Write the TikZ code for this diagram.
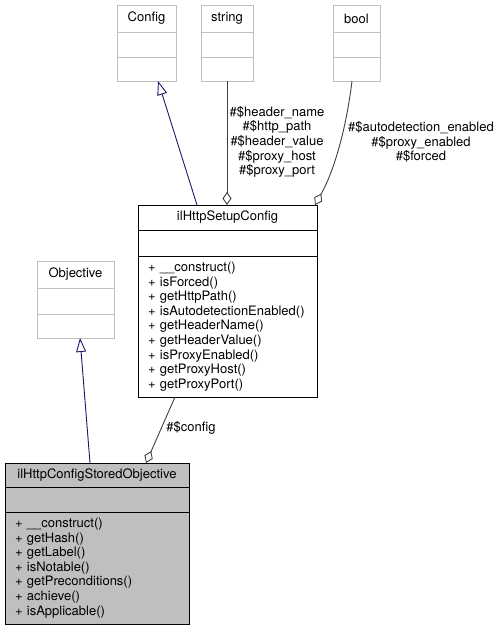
\documentclass[tikz,border=0pt]{standalone}
\usepackage{fontspec}
\newfontfamily\umlfont{TeX Gyre Heros}
\usetikzlibrary{positioning,arrows.meta}
\definecolor{umlgray}{HTML}{BFBFBF}
\definecolor{umledge}{HTML}{404040}
\definecolor{umlnavy}{HTML}{191970}
\tikzset{
  box/.style={draw, outer sep=0pt, inner sep=0pt, line width=0.9pt, text=black,
    font=\umlfont\fontsize{13}{14.6}\selectfont},
  extbox/.style={box, draw=umlgray, fill=white},
  ownbox/.style={box, draw=black, fill=white},
  mainbox/.style={box, draw=black, fill=umlgray},
  methods/.style={align=left, inner xsep=10pt},
  inherit/.style={draw=umlnavy, line width=0.9pt, -{Triangle[open, length=14pt, width=10pt]}},
  member/.style={draw=umledge, line width=0.9pt, -{Diamond[open, length=13pt, width=9pt]}},
  lbl/.style={align=center, inner sep=0pt, font=\umlfont\fontsize{13}{14.6}\selectfont}
}

\begin{document}
\begin{tikzpicture}[x=1pt, y=-1pt]
	\useasboundingbox (0,0) rectangle (503,632);
	
	%%%%% used classes %%%%%
	\node[extbox, anchor=north west, minimum width=59pt, minimum height=27pt] (config) at (117,5) {Config};
	\node[extbox, below=0pt of config, minimum width=59pt, minimum height=25pt] (config-a) {};
	\node[extbox, below=0pt of config-a, minimum width=59pt, minimum height=24pt] (config-m) {};
	
	\node[extbox, anchor=north west, minimum width=52pt, minimum height=27pt] (string) at (201,5) {string};
	\node[extbox, below=0pt of string, minimum width=52pt, minimum height=25pt] (string-a) {};
	\node[extbox, below=0pt of string-a, minimum width=52pt, minimum height=24pt] (string-m) {};
	
	\node[extbox, anchor=north west, minimum width=47pt, minimum height=27pt] (bool) at (333,5) {bool};
	\node[extbox, below=0pt of bool, minimum width=47pt, minimum height=25pt] (bool-a) {};
	\node[extbox, below=0pt of bool-a, minimum width=47pt, minimum height=24pt] (bool-m) {};
	
	\node[extbox, anchor=north west, minimum width=77pt, minimum height=27pt] (obj) at (37,261) {Objective};
	\node[extbox, below=0pt of obj, minimum width=77pt, minimum height=26pt] (obj-a) {};
	\node[extbox, below=0pt of obj-a, minimum width=77pt, minimum height=24pt] (obj-m) {};
	
	%%%%% ilHttpSetupConfig %%%%%
	\node[ownbox, anchor=north west, minimum width=179pt, minimum height=25pt] (setup) at (138,205) {ilHttpSetupConfig};
	\node[ownbox, below=0pt of setup, minimum width=179pt, minimum height=26pt] (setup-a) {};
	\node[ownbox, methods, below=0pt of setup-a, text width=159pt, minimum height=141pt] (setup-m)
		{+ \_\_construct()\\+ isForced()\\+ getHttpPath()\\+ isAutodetectionEnabled()\\+ getHeaderName()\\+ getHeaderValue()\\+ isProxyEnabled()\\+ getProxyHost()\\+ getProxyPort()};
	
	%%%%% ilHttpConfigStoredObjective %%%%%
	\node[mainbox, anchor=north west, minimum width=184pt, minimum height=24pt] (stored) at (5,463) {ilHttpConfigStoredObjective};
	\node[mainbox, below=0pt of stored, minimum width=184pt, minimum height=25pt] (stored-a) {};
	\node[mainbox, methods, below=0pt of stored-a, text width=164pt, minimum height=112pt] (stored-m)
		{+ \_\_construct()\\+ getHash()\\+ getLabel()\\+ isNotable()\\+ getPreconditions()\\+ achieve()\\+ isApplicable()};
	
	%%%%% connectors %%%%%
	\draw[inherit] ([xshift=59pt]setup.north west) -- ([xshift=41pt]config-m.south west);
	\draw[member] (string-m.south) -- (string-m.south |- setup.north);
	\draw[member] ([xshift=19pt]bool-m.south west) .. controls +(-6,49) and +(19,-34) .. ([xshift=-2pt]setup.north east);
	\draw[member] ([xshift=37pt]setup-m.south west) -- ([xshift=141pt]stored.north west);
	\draw[inherit] ([xshift=85pt]stored.north west) -- ([xshift=43pt]obj-m.south west);
	
	\node[lbl] (strlbl) at (277,142) {\#\$header\_name\\\#\$http\_path\\\#\$header\_value\\\#\$proxy\_host\\\#\$proxy\_port};
	\node[lbl] (boollbl) at (421,142) {\#\$autodetection\_enabled\\\#\$proxy\_enabled\\\#\$forced};
	\node[lbl] (cfglbl) at (191,428) {\#\$config};
\end{tikzpicture}
\end{document}
